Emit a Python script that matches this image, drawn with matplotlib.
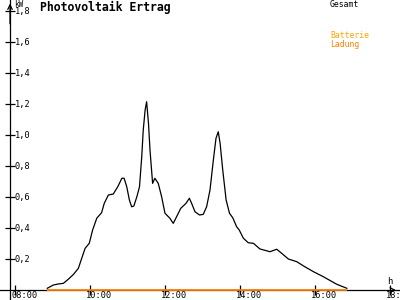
import matplotlib
matplotlib.use("Agg")
import matplotlib.pyplot as plt

# Gesamt (kW) over time of day (hours)
zeit = [8.86, 9.02, 9.16, 9.29, 9.42, 9.56, 9.69, 9.78, 9.87, 9.98,
        10.07, 10.18, 10.31, 10.38, 10.49, 10.62, 10.74, 10.85, 10.91, 10.98,
        11.05, 11.11, 11.17, 11.25, 11.32, 11.38, 11.42, 11.47, 11.51, 11.56,
        11.60, 11.67, 11.73, 11.82, 11.91, 12.00, 12.13, 12.22, 12.31, 12.42,
        12.56, 12.65, 12.71, 12.80, 12.92, 13.02, 13.11, 13.20, 13.29, 13.36,
        13.42, 13.47, 13.54, 13.63, 13.72, 13.81, 13.91, 13.98, 14.09, 14.22,
        14.36, 14.53, 14.80, 14.98, 15.11, 15.29, 15.51, 15.73, 15.96, 16.22,
        16.58, 16.85]
gesamt = [0.011, 0.032, 0.039, 0.043, 0.069, 0.101, 0.140, 0.205, 0.269, 0.301,
          0.387, 0.463, 0.499, 0.559, 0.613, 0.619, 0.666, 0.721, 0.721, 0.666,
          0.581, 0.537, 0.542, 0.602, 0.666, 0.860, 1.032, 1.161, 1.215, 1.075,
          0.903, 0.688, 0.721, 0.688, 0.602, 0.495, 0.463, 0.430, 0.473, 0.527,
          0.559, 0.592, 0.559, 0.505, 0.484, 0.488, 0.537, 0.645, 0.839, 0.979,
          1.021, 0.946, 0.774, 0.581, 0.495, 0.465, 0.408, 0.387, 0.334, 0.305,
          0.301, 0.265, 0.247, 0.263, 0.237, 0.200, 0.183, 0.150, 0.118, 0.086,
          0.037, 0.011]

# Batterie Ladung (kW)
ladung_zeit = [8.86, 16.85]
ladung = [0.0, 0.0]

x_ticks = [8, 10, 12, 14, 16, 18]
x_labels = ["08:00", "10:00", "12:00", "14:00", "16:00", "18:"]
y_ticks = [0.2, 0.4, 0.6, 0.8, 1.0, 1.2, 1.4, 1.6, 1.8]
y_labels = ["0,2", "0,4", "0,6", "0,8", "1,0", "1,2", "1,4", "1,6", "1,8"]

mono = "DejaVu Sans Mono"
fig = plt.figure(figsize=(4, 3), dpi=100)
ax = fig.add_axes([0, 0, 1, 1])
ax.set_xlim(7.6, 18.267)
ax.set_ylim(-0.0645, 1.871)

y_axis_x = 7.867
for s in ["top", "right"]:
    ax.spines[s].set_visible(False)
ax.spines["bottom"].set_position(("data", 0))
ax.spines["left"].set_position(("data", y_axis_x))
ax.spines["bottom"].set_linewidth(0.9)
ax.spines["left"].set_linewidth(0.9)
ax.set_xticks(x_ticks)
ax.set_yticks(y_ticks)
ax.tick_params(direction="inout", length=7, width=0.9, labelbottom=False, labelleft=False)

# arrow heads
ax.annotate("", xy=(18.23, 0), xytext=(18.0, 0),
            arrowprops=dict(arrowstyle="->", lw=0.9, mutation_scale=8))
ax.annotate("", xy=(y_axis_x, 1.866), xytext=(y_axis_x, 1.7),
            arrowprops=dict(arrowstyle="->", lw=0.9, mutation_scale=8))

ax.plot(zeit, gesamt, color="black", lw=0.9, zorder=4)
ax.plot(ladung_zeit, ladung, color="#ff8000", lw=1.3, solid_capstyle="butt", zorder=5)

for t, lab in zip(x_ticks, x_labels):
    ax.text(t - 0.1, -0.038, lab, fontsize=6.2, family=mono, ha="left", va="center")
for v, lab in zip(y_ticks, y_labels):
    ax.text(7.99, v, lab, fontsize=6.2, family=mono, ha="left", va="center")

ax.text(7.97, 1.845, "kW", fontsize=5.5, family=mono, ha="left", va="center")
ax.text(17.93, 0.054, "h", fontsize=6.5, family=mono, ha="left", va="center")
ax.text(8.67, 1.825, "Photovoltaik Ertrag", fontsize=8.3, family=mono,
        fontweight="bold", ha="left", va="center")
ax.text(16.4, 1.84, "Gesamt", fontsize=5.9, family=mono, ha="left", va="center")
ax.text(16.4, 1.64, "Batterie", fontsize=5.9, family=mono, color="#ffa500",
        ha="left", va="center")
ax.text(16.4, 1.585, "Ladung", fontsize=5.9, family=mono, color="#ff8000",
        ha="left", va="center")

fig.savefig("out.png", dpi=100)
